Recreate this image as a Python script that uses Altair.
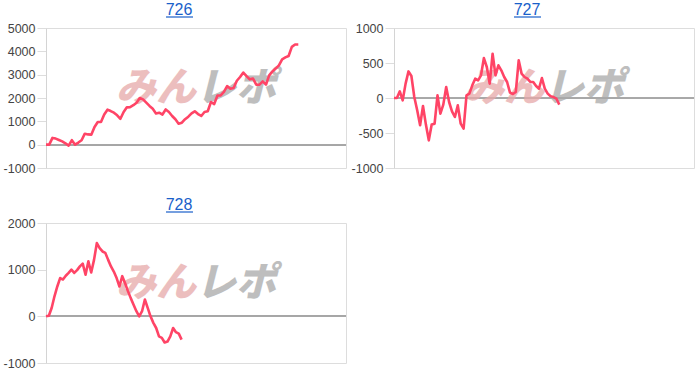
import altair as alt
import pandas as pd

# ---- data ----
titles = ["726", "727", "728"]

p726 = [0, 0, 290, 260, 200, 140, 60, -40, 190, 0, 90, 190, 470, 440, 430, 760, 970, 970,
        1290, 1500, 1440, 1370, 1260, 1110, 1400, 1600, 1610, 1690, 1800, 2000, 1940, 1800,
        1660, 1540, 1340, 1370, 1290, 1510, 1400, 1230, 1090, 900, 940, 1090, 1200, 1340,
        1430, 1310, 1230, 1400, 1430, 1830, 1740, 2110, 2110, 2260, 2510, 2400, 2430, 2740,
        2900, 3090, 2940, 2800, 2830, 2570, 2570, 2710, 2570, 2970, 3140, 3260, 3400, 3660,
        3740, 3800, 4190, 4290, 4290]

p727 = [0, 0, 95, -33, 205, 380, 314, 14, -176, -390, -114, -380, -605, -380, -367, 38,
        -224, -95, 157, -57, -190, -271, -105, -367, -438, 38, 62, 181, 276, 252, 324, 571,
        443, 205, 633, 324, 467, 395, 300, 229, 76, 57, 86, 538, 348, 300, 276, 229, 229,
        171, 133, 286, 133, 62, 24, 14, -10, -95]

p728 = [0, 14, 179, 430, 640, 820, 790, 870, 930, 1000, 930, 990, 1070, 1130, 890, 1180,
        940, 1210, 1570, 1460, 1390, 1360, 1210, 1070, 960, 820, 640, 860, 710, 540, 390,
        250, 110, 0, 110, 360, 180, 0, -140, -250, -430, -460, -560, -540, -430, -250, -340,
        -370, -500]

# share of the x range that each series covers
span_share = [0.841, 0.551, 0.452]
y_domains = [[-1000, 5000], [-1000, 1000], [-1000, 2000]]
y_steps = [1000, 500, 1000]
wm_words = ["みん", "レポ"]

W, H = 300, 140
LINE = "#ff4466"
LINK = "#1a5fca"


def panel(title, vals, share, ydom, ystep, extent):
    n = len(vals)
    df = pd.DataFrame({"i": list(range(n)), "v": vals})
    xmax = (n - 1) / share
    tick_vals = list(range(ydom[0], ydom[1] + 1, ystep))
    x = alt.X("i:Q", scale=alt.Scale(domain=[0, xmax], nice=False, zero=False), axis=None)
    y = alt.Y(
        "v:Q",
        scale=alt.Scale(domain=ydom, nice=False, zero=False),
        axis=alt.Axis(
            values=tick_vals,
            tickCount=len(tick_vals) + 2,
            title=None,
            ticks=True,
            tickSize=9,
            tickColor="#dddddd",
            domainColor="#d4d4d4",
            gridColor="#dedede",
            labelColor="#444444",
            labelFontSize=12.5,
            labelFont="Liberation Sans",
            labelPadding=2,
            labelOverlap=False,
            labelExpr="'' + datum.value",
            minExtent=extent,
            maxExtent=extent,
        ),
    )
    line = alt.Chart(df).mark_line(color=LINE, strokeWidth=2.6, strokeJoin="round").encode(x=x, y=y)
    zero = alt.Chart(df).mark_rule(color="#a8a8a8", strokeWidth=1).encode(y=alt.datum(0))

    one = pd.DataFrame({"k": [0]})
    wm1 = alt.Chart(one).mark_text(
        font="Noto Sans CJK JP", fontSize=40, fontWeight=900, fontStyle="italic",
        color="#e6a9a9", opacity=0.75, align="center", baseline="middle",
    ).encode(x=alt.value(110), y=alt.value(61), text=alt.value(wm_words[0]))
    wm2 = alt.Chart(one).mark_text(
        font="Noto Sans CJK JP", fontSize=40, fontWeight=900, fontStyle="italic",
        color="#a9a9a9", opacity=0.75, align="center", baseline="middle",
    ).encode(x=alt.value(190), y=alt.value(61), text=alt.value(wm_words[1]))

    ttl = alt.Chart(one).mark_text(
        font="Liberation Sans", fontSize=16, color=LINK, align="center", baseline="alphabetic",
    ).encode(x=alt.value(133), y=alt.value(-13), text=alt.value(title))
    ul = alt.Chart(one).mark_rule(color=LINK, strokeWidth=1.2).encode(
        x=alt.value(120), x2=alt.value(147), y=alt.value(-11)
    )
    return alt.layer(zero, wm1, wm2, line, ttl, ul).properties(width=W, height=H)


c1 = panel(titles[0], p726, span_share[0], y_domains[0], y_steps[0], 45)
c2 = panel(titles[1], p727, span_share[1], y_domains[1], y_steps[1], 46)
c3 = panel(titles[2], p728, span_share[2], y_domains[2], y_steps[2], 45)

chart = alt.vconcat(alt.hconcat(c1, c2, spacing=0), c3, spacing=21).properties(
    padding={"left": 0, "top": 1, "right": 0, "bottom": 0}
).configure_view(strokeWidth=0).configure(background="white")

chart.save("out.html", embed_options={"renderer": "svg", "actions": False})
